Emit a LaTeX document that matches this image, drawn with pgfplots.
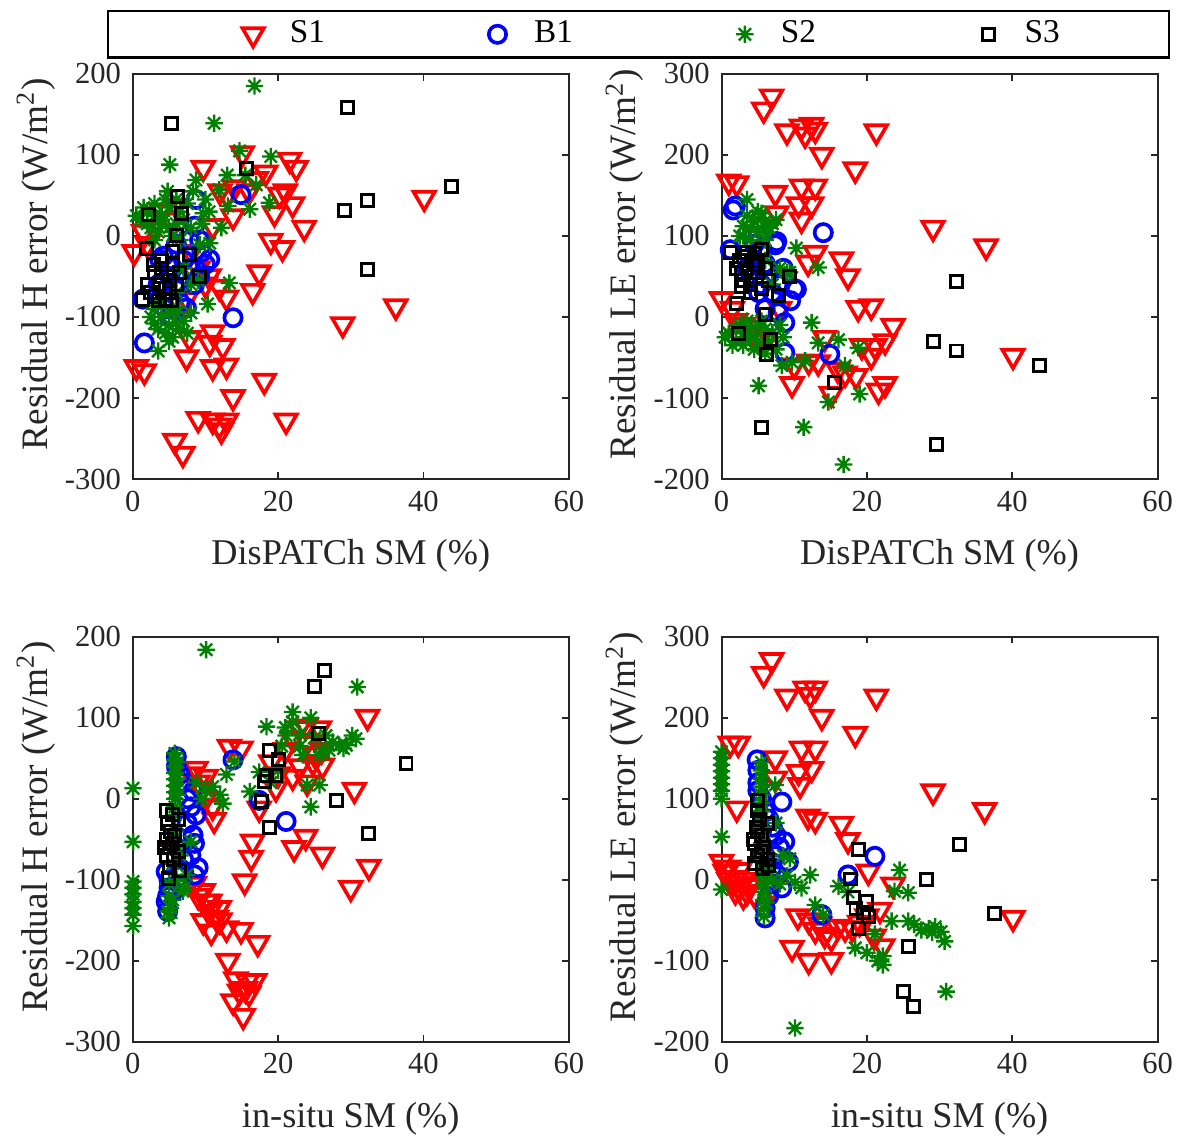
\documentclass[border=0pt]{standalone}
\usepackage{fontspec}
\setmainfont{Liberation Serif}
\usepackage{pgfplots}
\pgfplotsset{compat=1.18}
\definecolor{AxGray}{HTML}{262626}
\definecolor{SGreen}{HTML}{008000}

% 8-armed asterisk, like the MATLAB '*' marker
\pgfdeclareplotmark{star8}{%
  \pgfpathmoveto{\pgfqpoint{0pt}{\pgfplotmarksize}}\pgfpathlineto{\pgfqpoint{0pt}{-\pgfplotmarksize}}%
  \pgfpathmoveto{\pgfqpoint{\pgfplotmarksize}{0pt}}\pgfpathlineto{\pgfqpoint{-\pgfplotmarksize}{0pt}}%
  \pgfpathmoveto{\pgfqpoint{0.707\pgfplotmarksize}{0.707\pgfplotmarksize}}\pgfpathlineto{\pgfqpoint{-0.707\pgfplotmarksize}{-0.707\pgfplotmarksize}}%
  \pgfpathmoveto{\pgfqpoint{-0.707\pgfplotmarksize}{0.707\pgfplotmarksize}}\pgfpathlineto{\pgfqpoint{0.707\pgfplotmarksize}{-0.707\pgfplotmarksize}}%
  \pgfusepathqstroke}

\pgfplotsset{
  panel/.style={scale only axis,width=131.1pt,height=121.8pt,
    xmin=0,xmax=60,xtick={0,20,40,60},
    tick align=inside,major tick length=2pt,
    axis line style={AxGray,line width=0.6pt},
    tick style={AxGray,line width=0.5pt},
    ticklabel style={font=\fontsize{9.2}{11}\selectfont,text=AxGray},
    /pgf/number format/assume math mode=true,
    clip=false,
    every axis y label/.style={at={(axis description cs:-0.222,0.53)},rotate=90,anchor=center,
      font=\fontsize{11.2}{13}\selectfont,text=AxGray},
    every axis x label/.style={at={(axis description cs:0.5,-0.19)},anchor=center,
      font=\fontsize{10.9}{13}\selectfont,text=AxGray}},
  hpanel/.style={panel,ymin=-300,ymax=200,ytick={-300,-200,-100,0,100,200},
    ylabel={Residual H error (W/m\textsuperscript{2})}},
  lepanel/.style={panel,ymin=-200,ymax=300,ytick={-200,-100,0,100,200,300},
    ylabel={Residual LE error (W/m\textsuperscript{2})}},
  s1/.style={only marks,color=red,mark=triangle,mark size=3.7pt,line width=1.1pt,mark options={rotate=180,solid}},
  b1/.style={only marks,color=blue,mark=o,mark size=2.6pt,line width=1.1pt},
  s2/.style={only marks,color=SGreen,mark=star8,mark size=2.6pt,line width=0.7pt},
  s3/.style={only marks,color=black,mark=square,mark size=1.8pt,line width=0.9pt},
}

\begin{document}
\begin{tikzpicture}
% ---------- top left ----------
\begin{axis}[hpanel,at={(0pt,0pt)},anchor=south west,
  xlabel={DisPATCh SM (\%)},
  legend columns=4,
  legend style={at={(1.160,1.1576)},anchor=north,draw=black,line width=0.7pt,
    inner xsep=30.8pt,inner ysep=0.9pt,font=\fontsize{10}{12}\selectfont,
    /tikz/every even column/.append style={column sep=37.1pt}},
  legend image code/.code={\path (-12.2pt,0pt) (8.5pt,0pt); \draw[#1] plot coordinates {(0pt,0pt)};}]
\addplot[s1] coordinates {(0.2,-20)(9.7,84)(15.1,102)(18.3,78)(21.6,94)(22.5,84)(20.2,51)(22.0,39)(23.6,10)(19.5,28)
 (13.8,24)(19.0,-6)(20.6,-15)(17.4,-45)(16.5,-68)(11.9,-63)(12.9,-76)(11.0,-119)(7.8,-126)(10.6,-132)(12.4,-136)
 (7.4,-150)(11.0,-162)(12.9,-160)(18.1,-179)(13.8,-199)(21.1,-228)(9.0,-226)(11.0,-228)(11.9,-234)(12.9,-228)
 (12.2,-240)(5.8,-253)(6.9,-269)(0.5,-162)(1.6,-167)(28.9,-109)(36.2,-87)(40.1,47)(6,37)(11,12)(7.4,-78)(16,55)
 (17,70)(14,60)(12,55)(4,30)(3,10)(5,20)(8,-20)(9,-40)(10,-60)(1.5,5)(2,-10)(10.5,-50)(21,55)(13,50)};
\addlegendentry{S1}
\addplot[b1] coordinates {(14.9,51)(8.7,45)(8.5,12)(10.6,-29)(9.2,-50)(6.0,-66)(7.4,-89)(13.8,-101)(1.6,-132)(1.4,-78)
 (4.2,-25)(5.1,-50)(6.5,-82)(7,-30)(8,-40)(9.5,-20)(6,-10)(3.5,-60)(5.5,-40)(8.5,-60)(7.8,-5)(10,-35)(4.5,-90)(5,-100)(9.2,-5)(3.7,-29)};
\addlegendentry{B1}
\addplot[s2] coordinates {(16.75,185)(11.2,139)(5.1,88)(14.7,105)(19.0,98)(17.0,63)(18.8,41)(16.1,33)(13.1,37)(11.9,57)
 (9.7,28)(12.2,10)(8.7,69)(8.3,55)(4.8,55)(13.3,-58)(10.3,-84)(3.5,-142)(9.2,-11)(10.6,-9)(15.5,75)(13,75)(10,45)
 (1,20)(2,30)(3,40)(4,25)(5,35)(6,15)(2.5,10)(3.5,5)(4.5,45)(5.5,0)(6.5,30)(1.5,35)(7,20)(3,-5)(4,15)(5,10)(6,45)
 (2,15)(3,25)(0.5,25)(7.5,40)(8,10)(6.5,-5)
 (3,-90)(4,-100)(5,-110)(6,-95)(7,-105)(3.5,-115)(4.5,-120)(5.5,-125)(6.5,-115)(2.5,-100)(4,-85)(5,-95)(6,-108)
 (7.5,-120)(3,-108)(5,-130)(6,-88)(8,-95)(7,-40)(8,-60)(6,-70)(9,-55)(10.5,30)(9.5,15)};
\addlegendentry{S2}
\addplot[s3] coordinates {(5.3,139)(29.6,159)(15.6,83)(6.2,49)(6.7,28)(2.2,26)(6.0,0.5)(1.9,-15)(5.5,-19)(7.8,-23)
 (2.8,-35)(9.2,-50)(43.8,61)(32.3,44)(29.1,31)(32.3,-41)(1.4,-78)(5.3,-80)
 (3,-45)(4,-50)(5,-55)(3.5,-60)(4.5,-65)(2.5,-70)(3,-75)(4,-40)(5,-70)(6,-60)(2,-60)(3.5,-80)(4.5,-78)(6.5,-45)(5.5,-35)(4,-30)};
\addlegendentry{S3}
\end{axis}
% ---------- top right ----------
\begin{axis}[lepanel,at={(177pt,0pt)},anchor=south west,xlabel={DisPATCh SM (\%)}]
\addplot[s1] coordinates {(6.9,272)(5.8,256)(9.0,229)(11.0,235)(12.4,237)(12.9,231)(11.5,225)(21.3,229)(13.8,200)
 (18.4,182)(1.0,167)(2.1,165)(7.4,153)(11.0,161)(12.9,161)(10.6,139)(12.4,139)(11.0,120)(7.6,128)(29.1,110)
 (36.4,87)(12.9,79)(11.9,67)(16.5,71)(17.4,50)(0,22)(18.8,11)(20.6,13)(23.6,-11)(19.3,-36)(21.1,-36)(22.5,-30)
 (20.6,-48)(18.5,-73)(9.7,-83)(15.1,-95)(21.6,-91)(22.5,-83)(13.3,-56)(40.1,-48)(14.2,-26)
 (1.5,10)(2,-5)(4,-20)(6,-30)(8,10)(3,-10)(5,-25)(10,-60)(16,-65)(17,-70)(12,-55)};
\addplot[b1] coordinates {(1.9,137)(14.0,104)(1.2,83)(5.5,83)(7.6,93)(10.3,34)(8.7,-7)(8.7,-44)(14.9,-46)(5.1,30)
 (7,30)(8,40)(9.5,20)(6,10)(3.5,60)(5.5,40)(8.5,60)(7.8,5)(10,35)(4.5,90)(5,100)(6,66)(7.4,89)(1.6,132)};
\addplot[s2] coordinates {(3.5,145)(10.3,85)(13.3,61)(9.4,55)(12.4,-7)(16.1,-28)(13.3,-32)(18.8,-38)(11.5,-54)(8.3,-60)
 (9.7,-56)(17.0,-60)(5.1,-85)(14.7,-105)(19.0,-95)(11.3,-136)(16.8,-182)
 (3,100)(4,110)(5,120)(6,105)(7,115)(3.5,125)(4.5,118)(5.5,128)(6.5,110)(2.5,100)(4,95)(5,105)(6,118)(7.5,120)
 (3,112)(5,130)(6,95)
 (1,-20)(2,-30)(3,-35)(4,-25)(5,-30)(6,-15)(2.5,-10)(3.5,-5)(4.5,-40)(5.5,-5)(6.5,-30)(1.5,-35)(7,-20)(4,-15)
 (5,-10)(6,-45)(2,-15)(3,-25)(0.5,-25)(7.5,-40)(8,-10)(8.5,-25)(7,40)(8,60)(6,70)(9,55)};
\addplot[s3] coordinates {(1.2,79)(5.5,83)(2.8,55)(9.4,50)(2.8,38)(2.1,17)(7.8,26)(6.0,3)(2.3,-21)(6.7,-28)(6.2,-46)
 (15.6,-81)(32.3,44)(29.1,-30)(32.3,-42)(5.5,-136)(29.6,-157)(43.8,-60)
 (3,45)(4,50)(5,55)(3.5,60)(4.5,65)(2.5,70)(3,75)(4,40)(5,70)(6,60)(2,60)(3.5,80)(4.5,78)(6.5,45)(5.5,35)(4,30)};
\end{axis}
% ---------- bottom left ----------
\begin{axis}[hpanel,at={(0pt,-169.2pt)},anchor=south west,xlabel={in-situ SM (\%)}]
\addplot[s1] coordinates {(13.3,64)(14.9,62)(8.7,37)(10.1,27)(11.2,-26)(32.3,101)(22.9,87)(23.8,89)(25.7,87)(22,74)
 (24.8,45)(26.1,41)(22,27)(19.7,13)(30.5,11)(17.4,-12)(16.5,-53)(23.8,-47)(22.2,-61)(26.1,-69)(16.3,-73)(32.5,-84)
 (30.0,-110)(15.4,-102)(9.7,-114)(10.6,-127)(11.9,-135)(9.7,-151)(10.8,-164)(12.9,-160)(14.9,-162)(17.2,-178)
 (13.1,-200)(14.2,-223)(15.8,-225)(16.8,-225)(14.7,-238)(13.8,-250)(15.2,-268)(10.1,-127)(11.5,-147)
 (9,20)(9.5,10)(8,30)(10,0)(11,-10)(21,60)(24,70)(25,55)(23,40)(20,30)(24,20)(19,45)(26,60)(8.5,-105)(9,-120)
 (10.5,-140)(12,-150)(15.5,-235)(16,-240)};
\addplot[b1] coordinates {(6.0,52)(13.8,48)(8.3,9)(8.7,-20)(8.3,-45)(6.5,-86)(8.5,-94)(4.6,-90)(4.8,-139)(4.6,-127)
 (17.4,-2)(21.1,-28)(6,40)(7,20)(7.5,0)(8,-10)(7.5,-30)(8.5,-55)(6,-60)(5,-100)(5,-110)(7,-75)(6.5,30)(5.5,-115)
 (7,-90)(9,-85)(8,-70)(4.8,-120)};
\addplot[s2] coordinates {(10.1,184)(30.9,138)(0.05,13)(0.05,-53)(0.05,-102)(0.05,-110)(0.05,-118)(0.05,-127)
 (0.05,-135)(0.05,-143)(0.05,-157)
 (5.8,56)(5.8,48)(5.8,40)(5.8,32)(5.8,24)(5.8,16)(5.8,8)(5.8,0)(5.8,-10)(5.8,-20)(6.2,45)(6.2,25)(6.2,5)
 (8.7,20)(10,10)(11,15)(12,5)(9.5,0)(12.4,-6)(14,46)(12.9,30)(18.4,89)(22,107)(21.1,78)(23.4,54)(25.7,54)(24,17)
 (25.7,17)(24.5,-10)(16.1,9)(17.4,33)(30.2,78)(28.4,66)(29.4,66)(30.7,74)(27.5,70)(26.6,78)(6.9,-114)(4.9,-139)
 (8,-53)(7.4,-94)(5.8,-40)(5.8,-60)(5.5,-80)(6,-100)(5.5,-125)(6.5,-70)(7,-110)(20.5,65)(22,95)(23,80)(21,88)
 (25,75)(19,20)(20,35)(23,65)(24.5,100)(27,60)(29,62)(26,58)(5,-105)(5,-120)(5.2,-135)(5,-147)};
\addplot[s3] coordinates {(26.4,158)(25.0,138)(25.5,81)(18.8,60)(20.0,48)(18.4,29)(19.7,29)(18.1,21)(37.6,44)(28.0,-2)
 (32.5,-43)(18.8,-35)(17.7,-3)
 (4.6,-14)(5.5,-20)(4.8,-30)(5.2,-40)(4.6,-50)(5.8,-45)(5,-60)(4.6,-70)(5.6,-75)(5,-85)(4.9,-98)(6.3,-25)(6.3,-65)
 (4.4,-60)(5.5,-55)(6.5,-88)};
\end{axis}
% ---------- bottom right ----------
\begin{axis}[lepanel,at={(177pt,-169.2pt)},anchor=south west,xlabel={in-situ SM (\%)}]
\addplot[s1] coordinates {(6.9,271)(5.8,254)(9.0,226)(11.5,236)(12.9,236)(12.2,228)(21.3,226)(13.8,201)(18.4,180)
 (1.2,168)(2.3,168)(7.4,150)(11.0,162)(12.9,162)(10.6,133)(12.4,137)(10.8,117)(7.4,125)(2.1,88)(29.1,109)(36.2,86)
 (11.9,78)(12.9,74)(16.5,69)(17.4,49)(0,22)(2.1,2)(1.9,-14)(3.7,-8)(20.2,10)(23.6,-6)(21.8,-37)(40.1,-47)(12.9,-62)
 (14.2,-68)(15.1,-72)(17.0,-60)(9.7,-84)(15.1,-99)(22.2,-82)(19.0,-53)
 (0.5,10)(1,0)(1.5,-5)(2.5,-10)(3,0)(3.5,-15)(4,-5)(4.5,-18)(1,15)(2.5,12)(3,-20)(7,-10)(12,-50)(13.5,-55)(16,-58)
 (18,-60)(20,-45)(21,-70)(10.5,-45)(12,-100)};
\addplot[b1] coordinates {(4.9,148)(8.3,96)(8.7,47)(9.2,22)(8.3,-10)(6.0,-47)(21.1,29)(17.4,6)(13.8,-43)
 (5,135)(5,120)(5,110)(5.5,100)(6,85)(6.5,75)(7,65)(7.5,55)(8,40)(7.5,30)(7,15)(7.5,5)(7,-5)(6.5,-20)(6,-35)(5.5,60)(5.5,30)};
\addplot[s2] coordinates {(0,158)(0,150)(0,142)(0,134)(0,126)(0,118)(0,110)(0,100)(0,53)(0,-12)
 (5.5,145)(5.5,135)(5.5,125)(5.5,115)(5.5,105)(5.5,95)(5.5,85)(5.5,75)(5.5,65)(5.5,55)(5.5,45)(5.8,35)(5.8,25)
 (5.8,15)(5.8,5)(5.8,-5)(5.8,-15)(5.8,-25)(5.8,-35)(5.8,-45)(6.5,10)(7,0)(6.2,-28)
 (7.4,117)(9.4,26)(12.2,6)(10.1,-3)(12.9,-31)(16.1,-8)(14,-43)(24.5,12)(23.8,-14)(25.7,-16)(23.4,-51)(25.7,-51)
 (27.5,-62)(29.4,-58)(30.2,-64)(30.7,-76)(30.9,-138)(18.4,-84)(21.1,-67)(22.2,-94)(22.2,-105)(10.1,-183)(17.4,-15)
 (8,-5)(9,5)(11,-10)(7.5,70)(8.5,30)(28.5,-60)(29,-65)(26.5,-55)(20,-90)(21.5,-100)};
\addplot[s3] coordinates {(32.8,43)(28.2,0)(37.6,-42)(18.8,37)(17.7,1)(18.1,-22)(20.0,-27)(20.2,-45)(18.8,-60)(25.7,-82)
 (25.0,-138)(26.4,-156)(18.5,-35)(19.5,-40)
 (4.9,98)(5,85)(5.2,75)(4.8,65)(5.5,55)(4.6,45)(5.8,40)(5,30)(4.6,20)(5.6,14)(6.3,25)(6.3,70)(4.4,50)(5.5,35)
 (6.5,18)(5,60)};
\end{axis}
\path (-39.9pt,-197.7pt) rectangle (315.3pt,144pt);
\end{tikzpicture}
\end{document}
